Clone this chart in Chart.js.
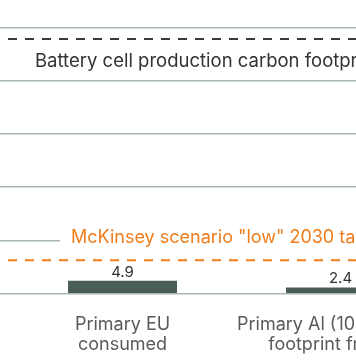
<!DOCTYPE html>
<html><head><meta charset="utf-8">
<script src="https://cdn.jsdelivr.net/npm/chart.js@4"></script>
<style>
html,body{margin:0;padding:0;width:356px;height:364px;overflow:hidden;background:#fff;}
#wrap{position:absolute;left:0;top:-50px;width:520px;height:440px;}
</style></head><body>
<div id="wrap"><canvas id="c" width="520" height="440" style="width:520px;height:440px"></canvas></div>
<script>
const categories = [["Primary EU", "consumed"], ["Primary Al (100% hydro)", "footprint from IAI"]];
const values = [4.9, 2.4];
const yTicks = [0, 20, 40, 60, 80, 100, 120];
const refValues = [95.6, 12.6];
const refLabels = ["Battery cell production carbon footprint", "McKinsey scenario \"low\" 2030 target"];

const refStyles = [
  {color:'#3a3a3a', textColor:'#333333', dash:[9,8], lineStart:8, dy:22.3, tx:35, pad:10, size:18.5},
  {color:'#f07d1a', textColor:'#f07d1a', dash:[9,8], lineStart:8, dy:-22.3, tx:71, pad:11, size:18}
];

const refPlugin = {
  id:'refs',
  afterDatasetsDraw(chart){
    const ctx = chart.ctx, y = chart.scales.y;
    const meta = chart.getDatasetMeta(0);
    ctx.save();
    ctx.font = '15px Inter';
    ctx.fillStyle = '#333333';
    ctx.textAlign = 'center';
    ctx.textBaseline = 'alphabetic';
    meta.data.forEach((bar, i) => { ctx.fillText(values[i].toFixed(1), bar.x, bar.y - 4); });
    refStyles.forEach((s, i) => {
      const yy = y.getPixelForValue(refValues[i]);
      ctx.setLineDash(s.dash);
      ctx.strokeStyle = s.color;
      ctx.lineWidth = 2;
      ctx.beginPath(); ctx.moveTo(s.lineStart, yy); ctx.lineTo(chart.width, yy); ctx.stroke();
      ctx.setLineDash([]);
      ctx.font = s.size + 'px Inter';
      const ty = yy + s.dy;
      const w = ctx.measureText(refLabels[i]).width;
      ctx.fillStyle = '#ffffff';
      ctx.fillRect(s.tx - s.pad, ty - 12, w + 2 * s.pad, 24);
      ctx.fillStyle = s.textColor;
      ctx.textAlign = 'left';
      ctx.textBaseline = 'middle';
      ctx.fillText(refLabels[i], s.tx, ty);
    });
    ctx.restore();
  }
};

new Chart(document.getElementById('c'), {
  type: 'bar',
  data: {
    labels: categories,
    datasets: [{data: values, backgroundColor: '#4a5e59', barPercentage: 0.5, categoryPercentage: 1}]
  },
  options: {
    responsive: false, animation: false, devicePixelRatio: 1,
    layout: {padding: {top: 24, left: 0, right: 70.5, bottom: 6.2}},
    plugins: {legend: {display: false}, tooltip: {enabled: false}},
    scales: {
      x: {
        offset: true,
        grid: {display: false, drawTicks: false},
        border: {display: false},
        ticks: {color: '#5a5a5a', font: {family: 'Inter', size: 18, lineHeight: 1.12}, maxRotation: 0, minRotation: 0, autoSkip: false, padding: 21},
        afterFit(s){ s.height = 90; }
      },
      y: {
        min: 0, max: 120,
        afterBuildTicks(s){ s.ticks = yTicks.map(v => ({value: v})); },
        ticks: {display: false},
        grid: {color: '#a9b5b1', lineWidth: 1.5, drawTicks: true, tickLength: 14},
        border: {display: false},
        afterFit(s){ s.width = 13.5; }
      }
    }
  },
  plugins: [refPlugin]
});
</script>
</body></html>
